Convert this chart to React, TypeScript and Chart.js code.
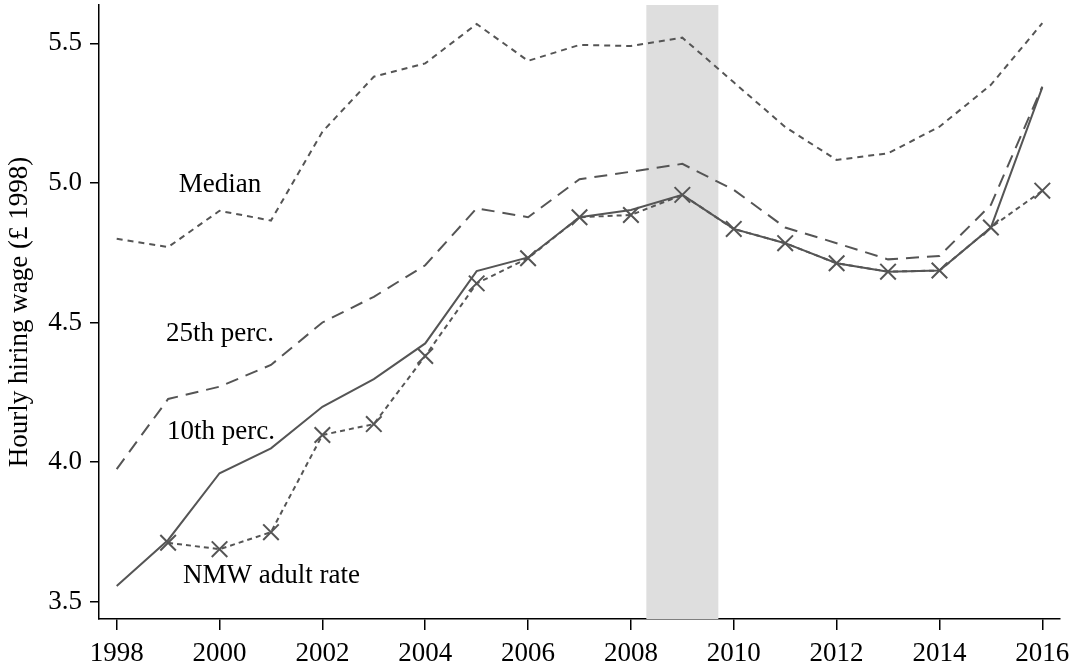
import React, { useEffect, useRef } from "react";
import { Chart, registerables } from "chart.js";

Chart.register(...registerables);

// Survey years
const years = [
  1998, 1999, 2000, 2001, 2002, 2003, 2004, 2005, 2006, 2007,
  2008, 2009, 2010, 2011, 2012, 2013, 2014, 2015, 2016,
];

// Hourly hiring wage, £ at 1998 prices
const medianWage = [
  4.8, 4.77, 4.9, 4.865, 5.183, 5.38, 5.428, 5.569, 5.437, 5.494,
  5.49, 5.52, 5.36, 5.2, 5.082, 5.106, 5.201, 5.351, 5.572,
];
const p25Wage = [
  3.975, 4.226, 4.27, 4.348, 4.5, 4.592, 4.705, 4.909, 4.877, 5.013,
  5.04, 5.068, 4.975, 4.84, 4.784, 4.726, 4.738, 4.921, 5.345,
];
const p10Wage = [
  3.556, 3.721, 3.96, 4.049, 4.198, 4.297, 4.425, 4.684, 4.733, 4.877,
  4.903, 4.957, 4.835, 4.784, 4.712, 4.682, 4.686, 4.84, 5.342,
];
const nmwAdultRate = [
  null, 3.711, 3.688, 3.749, 4.097, 4.136, 4.38, 4.64, 4.73, 4.877,
  4.885, 4.957, 4.835, 4.784, 4.712, 4.682, 4.686, 4.84, 4.972,
];

// Shaded recession period
const recessionStart = 2008.3;
const recessionEnd = 2009.7;

// Axis ranges
const xMin = 1997.656;
const xMax = 2016.344;
const yMin = 3.438;
const yMax = 5.637;

// In-plot series names, anchored in data coordinates
const seriesNotes = [
  { text: "Median", x: 2000.01, y: 4.994 },
  { text: "25th perc.", x: 2000.01, y: 4.459 },
  { text: "10th perc.", x: 2000.03, y: 4.108 },
  { text: "NMW adult rate", x: 2001.01, y: 3.593 },
];

const FONT = '"Liberation Serif", "Times New Roman", serif';
const LINE = "#555555";

const toPoints = (vals: (number | null)[]) =>
  years.map((x, i) => ({ x, y: vals[i] }));

const recessionBand = {
  id: "recessionBand",
  beforeDatasetsDraw(chart: any) {
    const { ctx, chartArea, scales } = chart;
    const x0 = scales.x.getPixelForValue(recessionStart);
    const x1 = scales.x.getPixelForValue(recessionEnd);
    ctx.save();
    ctx.fillStyle = "#dedede";
    ctx.fillRect(x0, chartArea.top, x1 - x0, chartArea.bottom - chartArea.top);
    ctx.restore();
  },
};

const notesPlugin = {
  id: "seriesNotes",
  afterDatasetsDraw(chart: any) {
    const { ctx, scales } = chart;
    ctx.save();
    ctx.font = `27px ${FONT}`;
    ctx.fillStyle = "#000";
    ctx.textAlign = "center";
    ctx.textBaseline = "middle";
    for (const n of seriesNotes) {
      ctx.fillText(n.text, scales.x.getPixelForValue(n.x), scales.y.getPixelForValue(n.y));
    }
    ctx.restore();
  },
};

export default function App() {
  const canvasRef = useRef<HTMLCanvasElement | null>(null);

  useEffect(() => {
    if (!canvasRef.current) return;
    const chart = new Chart(canvasRef.current, {
      type: "line",
      data: {
        datasets: [
          {
            label: "Median",
            data: toPoints(medianWage),
            borderColor: LINE,
            borderWidth: 2,
            borderDash: [6, 5],
            pointRadius: 0,
            tension: 0,
          },
          {
            label: "25th perc.",
            data: toPoints(p25Wage),
            borderColor: LINE,
            borderWidth: 2,
            borderDash: [13, 8],
            pointRadius: 0,
            tension: 0,
          },
          {
            label: "10th perc.",
            data: toPoints(p10Wage),
            borderColor: LINE,
            borderWidth: 2,
            pointRadius: 0,
            tension: 0,
          },
          {
            label: "NMW adult rate",
            data: toPoints(nmwAdultRate),
            borderColor: LINE,
            borderWidth: 2,
            borderDash: [5, 4],
            pointStyle: "crossRot",
            pointRadius: 11,
            pointBorderWidth: 2,
            pointBorderColor: LINE,
            pointBackgroundColor: LINE,
            tension: 0,
          },
        ],
      },
      options: {
        responsive: false,
        animation: false,
        layout: { autoPadding: false, padding: { top: 5, right: 9, left: 0, bottom: 0 } },
        plugins: {
          legend: { display: false },
          tooltip: { enabled: false },
        },
        scales: {
          x: {
            type: "linear",
            min: xMin,
            max: xMax,
            afterFit: (s: any) => {
              s.height = 47;
              s.paddingLeft = 0;
              s.paddingRight = 0;
            },
            grid: {
              drawOnChartArea: false,
              drawTicks: true,
              tickLength: 11,
              color: "#000",
              lineWidth: 1.5,
            },
            border: { display: true, color: "#000", width: 1.5 },
            ticks: {
              stepSize: 2,
              includeBounds: false,
              autoSkip: false,
              maxRotation: 0,
              padding: 8,
              color: "#000",
              font: { family: FONT, size: 27 },
              callback: (v: any) => String(Math.round(Number(v))),
            },
          },
          y: {
            type: "linear",
            min: yMin,
            max: yMax,
            afterFit: (s: any) => {
              s.width = 99;
              s.paddingTop = 0;
              s.paddingBottom = 0;
            },
            grid: {
              drawOnChartArea: false,
              drawTicks: true,
              tickLength: 9,
              color: "#000",
              lineWidth: 1.5,
            },
            border: { display: true, color: "#000", width: 1.5 },
            ticks: {
              stepSize: 0.5,
              includeBounds: false,
              padding: 8,
              color: "#000",
              font: { family: FONT, size: 27 },
              callback: (v: any) => Number(v).toFixed(1),
            },
            title: {
              display: true,
              text: "Hourly hiring wage (£ 1998)",
              color: "#000",
              font: { family: FONT, size: 27 },
              padding: { top: 4, bottom: 0 },
            },
          },
        },
      },
      plugins: [recessionBand, notesPlugin],
    });
    return () => chart.destroy();
  }, []);

  return (
    <div style={{ position: "absolute", left: 0, top: 0, width: 1069, height: 666, background: "#fff" }}>
      <canvas ref={canvasRef} width={1069} height={666} style={{ display: "block" }} />
    </div>
  );
}
